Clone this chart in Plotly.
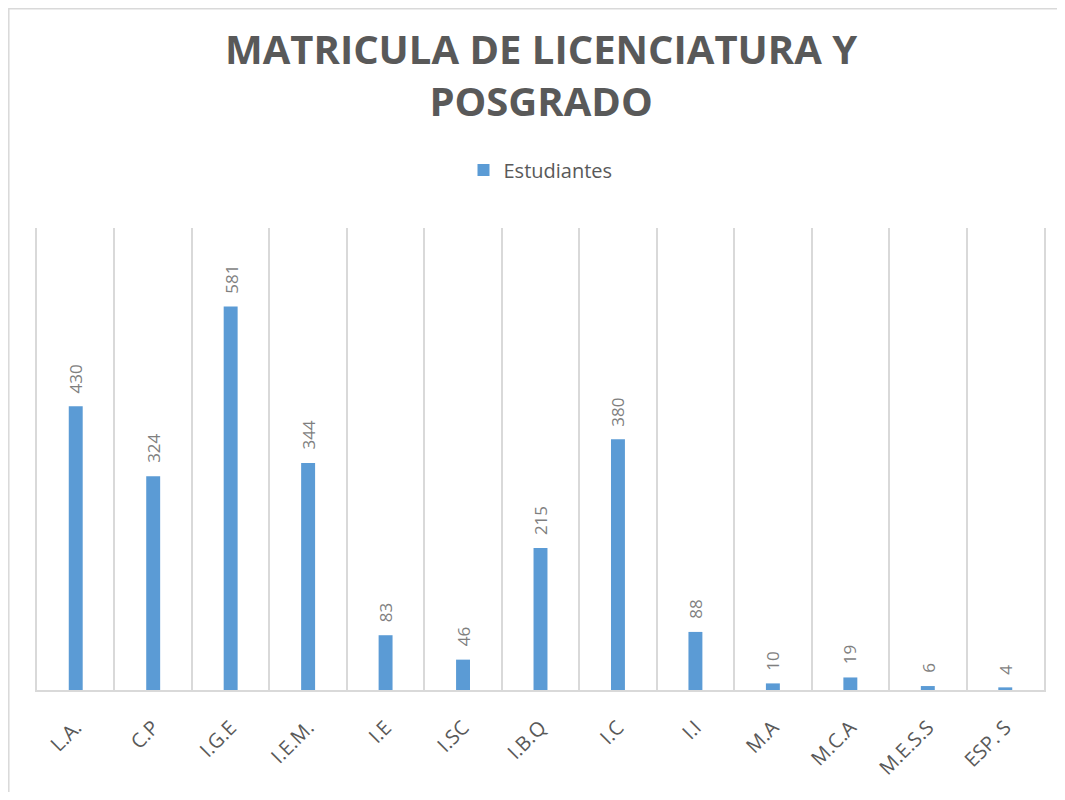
import plotly.graph_objects as go

categories = ["L.A.", "C.P", "I.G.E", "I.E.M.", "I.E", "I.SC", "I.B.Q", "I.C", "I.I",
              "M.A", "M.C.A", "M.E.S.S", "ESP. S"]
estudiantes = [430, 324, 581, 344, 83, 46, 215, 380, 88, 10, 19, 6, 4]

BAR = "#5B9BD5"
TXT = "#595959"
LBL = "#7F7F7F"
GRID = "#D9D9D9"

fig = go.Figure()
fig.add_trace(go.Bar(
    x=categories, y=estudiantes, name="Estudiantes",
    marker=dict(color=BAR, line=dict(width=0)),
))

# page has an 8px body margin; figure starts at (8, 8)
OFF = 8
W, H = 1049, 784
L, T = 37 - OFF, 228 - OFF
R = W - (1046 - OFF)
B = H - (690 - OFF)
pw, ph = W - L - R, H - T - B

annotations = [
    dict(x=c, y=v, xref="x", yref="y", text=str(v), showarrow=False,
         textangle=-90, xanchor="center", yanchor="bottom", yshift=11,
         font=dict(family="Open Sans", size=17, color=LBL))
    for c, v in zip(categories, estudiantes)
]
annotations.append(dict(
    text="<b>MATRICULA DE LICENCIATURA Y<br>POSGRADO</b>",
    xref="paper", yref="paper", x=0.5, xanchor="center",
    y=(H - B - (75 - OFF)) / ph, yanchor="middle", showarrow=False,
    font=dict(family="Open Sans", size=40, color=TXT),
))

fig.update_layout(
    width=W, height=H,
    margin=dict(l=L, r=R, t=T, b=B, pad=0),
    paper_bgcolor="white", plot_bgcolor="white",
    bargap=0.82,
    showlegend=True,
    legend=dict(
        orientation="h", x=0.5, xanchor="center",
        y=(H - B - (170 - OFF)) / ph, yanchor="middle",
        font=dict(family="Open Sans", size=20, color=TXT),
        itemwidth=30,
    ),
    xaxis=dict(
        tickangle=-45, tickson="boundaries", showgrid=True, gridcolor=GRID, gridwidth=1.5,
        ticks="", showline=True, linecolor=GRID, linewidth=2, ticklabelstandoff=16,
        tickfont=dict(family="Open Sans", size=20, color=TXT),
    ),
    yaxis=dict(range=[0, 700], showgrid=False, showticklabels=False, zeroline=False,
               ticks="", showline=True, mirror=True, linecolor=GRID, linewidth=1.5),
    annotations=annotations,
    shapes=[dict(type="rect", xref="paper", yref="paper",
                 x0=(0.75 - L) / pw, x1=1.2, y0=-0.6, y1=(H - B - 0.75) / ph,
                 line=dict(color=GRID, width=1.5), fillcolor="rgba(0,0,0,0)", layer="below")],
)

fig.write_html("out.html")
